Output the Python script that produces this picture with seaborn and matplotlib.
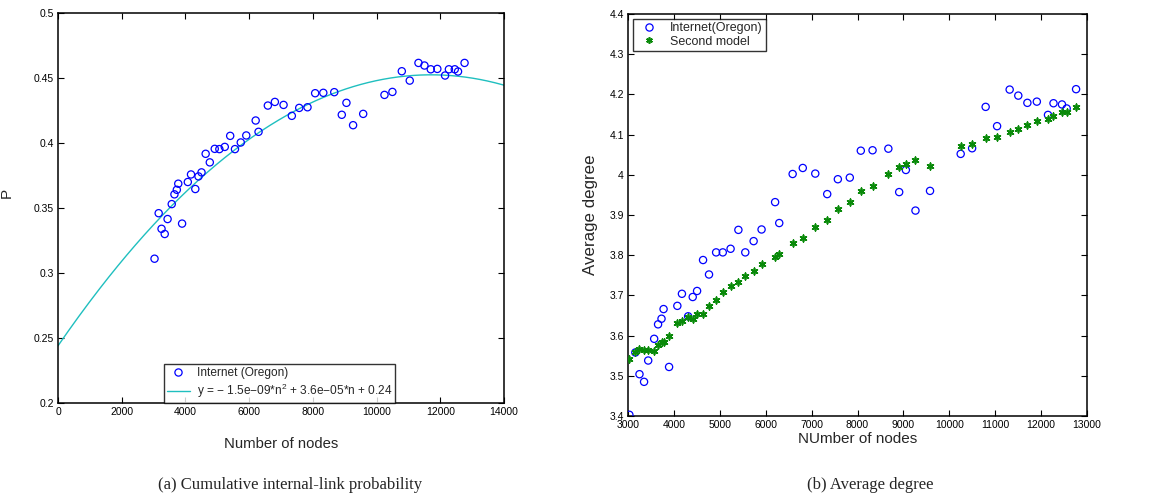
import numpy as np
import pandas as pd
import matplotlib
matplotlib.use("Agg")
import matplotlib.pyplot as plt
import seaborn as sns
from matplotlib.lines import Line2D

# --- data ---
nodes = [3030, 3160, 3250, 3350, 3440, 3570, 3655, 3730, 3775, 3895,
         4075, 4175, 4310, 4410, 4505, 4635, 4765, 4920, 5065, 5235,
         5405, 5555, 5737, 5910, 6205, 6295, 6587, 6808, 7080, 7340,
         7572, 7832, 8072, 8328, 8672, 8908, 9054, 9263, 9580, 10248,
         10497, 10792, 11041, 11315, 11503, 11701, 11907, 12150, 12270, 12455,
         12557, 12762]

p_oregon = [0.311, 0.346, 0.334, 0.330, 0.3415, 0.353, 0.3605, 0.364, 0.3687, 0.338,
            0.370, 0.3758, 0.3646, 0.3743, 0.3774, 0.3917, 0.3851, 0.3955, 0.3953, 0.397,
            0.4055, 0.3953, 0.4004, 0.4058, 0.4173, 0.4086, 0.4288, 0.4316, 0.4293, 0.4209,
            0.427, 0.4275, 0.4383, 0.4386, 0.4391, 0.4217, 0.4309, 0.4137, 0.4224, 0.437,
            0.4393, 0.4552, 0.448, 0.4616, 0.4596, 0.4567, 0.457, 0.4519, 0.4567, 0.4567,
            0.455, 0.4616]

# quadratic fit coefficients (highest power first)
fit_coef = [-1.52e-9, 3.56e-5, 0.2440]
fit_label = r"y = $-$ 1.5e$-$09*n$^2$ + 3.6e$-$05*n + 0.24"

deg_oregon = [3.403, 3.558, 3.504, 3.485, 3.538, 3.592, 3.628, 3.642, 3.666, 3.522,
              3.674, 3.704, 3.648, 3.696, 3.711, 3.788, 3.752, 3.807, 3.807, 3.816,
              3.863, 3.807, 3.835, 3.864, 3.932, 3.880, 4.002, 4.017, 4.003, 3.952,
              3.989, 3.993, 4.060, 4.061, 4.065, 3.957, 4.012, 3.911, 3.960, 4.052,
              4.066, 4.169, 4.121, 4.212, 4.197, 4.179, 4.182, 4.149, 4.178, 4.175,
              4.165, 4.213]

deg_model = [3.541, 3.558, 3.566, 3.563, 3.563, 3.561, 3.576, 3.583, 3.583, 3.598,
             3.631, 3.636, 3.646, 3.641, 3.653, 3.653, 3.673, 3.689, 3.708, 3.724,
             3.734, 3.748, 3.761, 3.777, 3.796, 3.802, 3.831, 3.844, 3.870, 3.887,
             3.916, 3.932, 3.959, 3.973, 4.001, 4.019, 4.027, 4.038, 4.022, 4.071,
             4.076, 4.091, 4.095, 4.107, 4.114, 4.125, 4.134, 4.140, 4.146, 4.157,
             4.157, 4.168]
model_nodes = [3015] + nodes[1:]

left_xticks = list(range(0, 14001, 2000))
left_yticks = [0.2, 0.25, 0.3, 0.35, 0.4, 0.45, 0.5]
right_xticks = list(range(3000, 13001, 1000))
right_yticks = [3.4, 3.5, 3.6, 3.7, 3.8, 3.9, 4.0, 4.1, 4.2, 4.3, 4.4]

sns.set_style("ticks")
plt.rcParams['font.family'] = ['Liberation Sans', 'DejaVu Sans']
plt.rcParams['mathtext.fontset'] = 'custom'
plt.rcParams['mathtext.rm'] = 'Liberation Sans'
plt.rcParams['mathtext.it'] = 'Liberation Sans'

BLUE = "#0000ff"
GREEN = "#0a8a0a"
CYAN = "#1fbfbf"


def style_axes(ax, xticks, yticks):
    ax.set_xticks(xticks)
    ax.set_yticks(yticks)
    ax.set_xticklabels([str(t) for t in xticks])
    ax.set_yticklabels([f"{t:g}" for t in yticks])
    ax.tick_params(direction='in', top=True, right=True, length=4, width=0.8,
                   labelsize=7.5, colors='black', pad=3)
    for s in ax.spines.values():
        s.set_visible(True)
        s.set_linewidth(1.1)
        s.set_color('black')


fig = plt.figure(figsize=(11.59, 5.01), dpi=100)

# --- (a) cumulative internal-link probability ---
ax1 = fig.add_axes([58 / 1159, 1 - 403 / 501, 446 / 1159, 390 / 501])
df_a = pd.DataFrame({'n': nodes, 'P': p_oregon})
n_line = np.linspace(0, 14000, 300)
df_fit = pd.DataFrame({'n': n_line, 'P': np.polyval(fit_coef, n_line)})
sns.lineplot(data=df_fit, x='n', y='P', ax=ax1, color=CYAN, linewidth=1.0)
sns.scatterplot(data=df_a, x='n', y='P', ax=ax1, marker='o', s=27,
                color='none', edgecolor=BLUE, linewidth=0.9, zorder=3)
ax1.set_xlim(0, 14000)
ax1.set_ylim(0.2, 0.5)
style_axes(ax1, left_xticks, left_yticks)
ax1.set_xlabel("Number of nodes", fontsize=10.7, labelpad=14)
ax1.set_ylabel("P", fontsize=11)
ax1.yaxis.set_label_coords(-0.10, 0.538)
h1 = [Line2D([], [], marker='o', linestyle='', markerfacecolor='none',
             markeredgecolor=BLUE, markersize=5.2, markeredgewidth=0.9),
      Line2D([], [], color=CYAN, linewidth=1.0)]
leg1 = ax1.legend(h1, ["Internet (Oregon)", fit_label], loc='lower center',
                  bbox_to_anchor=(0.497, 0.0), fontsize=8.6, frameon=True,
                  fancybox=False, edgecolor='black', borderpad=0.25,
                  labelspacing=0.2, handlelength=1.9, handletextpad=0.6,
                  borderaxespad=0)
leg1.get_frame().set_linewidth(1.0)

# --- (b) average degree ---
ax2 = fig.add_axes([628 / 1159, 1 - 416 / 501, 459 / 1159, 402 / 501])
df_b = pd.DataFrame({'n': nodes, 'deg': deg_oregon})
df_m = pd.DataFrame({'n': model_nodes, 'deg': deg_model})
sns.scatterplot(data=df_b, x='n', y='deg', ax=ax2, marker='o', s=27,
                color='none', edgecolor=BLUE, linewidth=0.9, zorder=3)
sns.scatterplot(data=df_m, x='n', y='deg', ax=ax2, marker=(6, 2, 0), s=22,
                color=GREEN, edgecolor=GREEN, linewidth=1.2, zorder=3)
ax2.set_xlim(3000, 13000)
ax2.set_ylim(3.4, 4.4)
style_axes(ax2, right_xticks, right_yticks)
ax2.set_xlabel("NUmber of nodes", fontsize=11, labelpad=1)
ax2.set_ylabel("Average degree", fontsize=12.2)
ax2.yaxis.set_label_coords(-0.066, 0.5)
h2 = [Line2D([], [], marker='o', linestyle='', markerfacecolor='none',
             markeredgecolor=BLUE, markersize=5.2, markeredgewidth=0.9),
      Line2D([], [], marker=(6, 2, 0), linestyle='', color=GREEN,
             markersize=4.7, markeredgewidth=1.2)]
leg2 = ax2.legend(h2, ["Internet(Oregon)", "Second model"], loc='upper left',
                  bbox_to_anchor=(0.011, 0.988), fontsize=9, frameon=True,
                  fancybox=False, edgecolor='black', borderpad=0.25,
                  labelspacing=0.15, handlelength=2.0, handletextpad=0.7,
                  borderaxespad=0)
leg2.get_frame().set_linewidth(1.0)

# captions
fig.text(290 / 1159, 1 - 485 / 501, "(a) Cumulative internal-link probability",
         ha='center', va='center', fontsize=12, family='Liberation Serif')
fig.text(870 / 1159, 1 - 485 / 501, "(b) Average degree",
         ha='center', va='center', fontsize=12, family='Liberation Serif')

fig.savefig("out.png", dpi=100)
